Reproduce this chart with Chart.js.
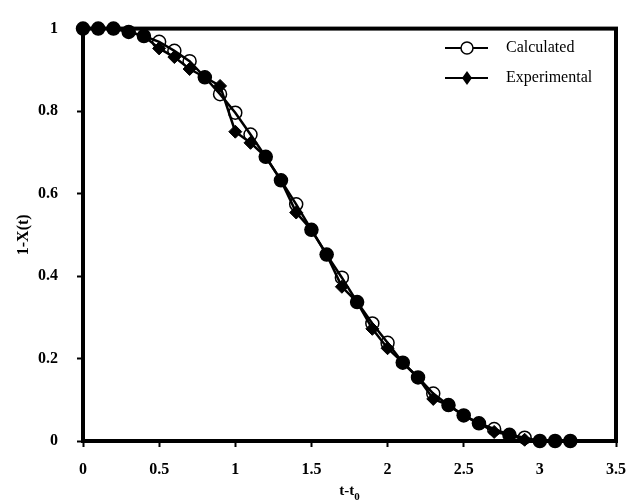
<!DOCTYPE html>
<html>
<head>
<meta charset="utf-8">
<script src="https://cdn.jsdelivr.net/npm/chart.js@4/dist/chart.umd.min.js"></script>
<style>
  html, body { margin: 0; padding: 0; background: #fff; }
  #c { display: block; }
</style>
</head>
<body>
<canvas id="c" width="639" height="502"></canvas>
<script>
// Reduced time t - t0
const timeValues = [0, 0.1, 0.2, 0.3, 0.4, 0.5, 0.6, 0.7, 0.8, 0.9, 1.0,
  1.1, 1.2, 1.3, 1.4, 1.5, 1.6, 1.7, 1.8, 1.9, 2.0,
  2.1, 2.2, 2.3, 2.4, 2.5, 2.6, 2.7, 2.8, 2.9, 3.0, 3.1, 3.2];

// Model prediction of 1 - X(t)
const calculated = [1, 1, 1, 0.992, 0.982, 0.968, 0.946, 0.921, 0.882, 0.841, 0.796,
  0.743, 0.689, 0.632, 0.574, 0.512, 0.452, 0.396, 0.337, 0.285, 0.238,
  0.190, 0.154, 0.115, 0.087, 0.062, 0.043, 0.029, 0.015, 0.008, 0, 0, 0];

// Measured 1 - X(t)
const experimental = [1, 1, 1, 0.992, 0.982, 0.952, 0.931, 0.902, 0.882, 0.861, 0.750,
  0.723, 0.689, 0.632, 0.554, 0.512, 0.452, 0.374, 0.337, 0.272, 0.225,
  0.190, 0.154, 0.102, 0.087, 0.062, 0.043, 0.022, 0.015, 0.003, 0, 0, 0];

const xTicks = [0, 0.5, 1, 1.5, 2, 2.5, 3, 3.5];
const yTicks = [0, 0.2, 0.4, 0.6, 0.8, 1];

const serif = "'Liberation Serif', 'Times New Roman', serif";

// Where both curves share a point, the calculated circle is drawn solid
function calcFill(ctx) {
  const i = ctx.dataIndex;
  if (i === undefined) return 'rgba(0,0,0,0)';
  return Math.abs(calculated[i] - experimental[i]) < 0.004 ? '#000' : 'rgba(0,0,0,0)';
}

const plainNumber = v => String(Math.round(v * 100) / 100);

// Heavy frame around the plotting area
const framePlugin = {
  id: 'frame',
  beforeDatasetsDraw(chart) {
    const { ctx, chartArea: a } = chart;
    ctx.save();
    ctx.strokeStyle = '#000';
    ctx.lineWidth = 4;
    ctx.strokeRect(a.left, a.top, a.right - a.left, a.bottom - a.top);
    ctx.restore();
  }
};

// x-axis title with subscript, and the line+marker legend in the corner
const annotatePlugin = {
  id: 'annotate',
  afterDraw(chart) {
    const { ctx, chartArea: a } = chart;
    ctx.save();
    ctx.fillStyle = '#000';
    ctx.textBaseline = 'alphabetic';
    // t-t0
    const main = 't-t';
    ctx.font = 'bold 15px ' + serif;
    const w1 = ctx.measureText(main).width;
    ctx.font = 'bold 11px ' + serif;
    const w2 = ctx.measureText('0').width;
    const cx = (a.left + a.right) / 2;
    const x0 = cx - (w1 + w2) / 2;
    ctx.font = 'bold 15px ' + serif;
    ctx.textAlign = 'left';
    ctx.fillText(main, x0, 495);
    ctx.font = 'bold 11px ' + serif;
    ctx.fillText('0', x0 + w1, 500);

    // legend
    const items = [
      { label: chart.data.datasets[1].label, style: 'circle', y: 48 },
      { label: chart.data.datasets[0].label, style: 'diamond', y: 78 }
    ];
    const lx1 = 445, lx2 = 488, mx = 467;
    items.forEach(it => {
      ctx.strokeStyle = '#000';
      ctx.lineWidth = 2;
      ctx.beginPath();
      if (it.style === 'circle') {
        ctx.moveTo(lx1, it.y); ctx.lineTo(mx - 6, it.y);
        ctx.moveTo(mx + 6, it.y); ctx.lineTo(lx2, it.y);
        ctx.stroke();
        ctx.lineWidth = 1.5;
        ctx.beginPath();
        ctx.arc(mx, it.y, 6, 0, Math.PI * 2);
        ctx.stroke();
      } else {
        ctx.moveTo(lx1, it.y); ctx.lineTo(lx2, it.y);
        ctx.stroke();
        ctx.beginPath();
        ctx.moveTo(mx, it.y - 7);
        ctx.lineTo(mx + 5, it.y);
        ctx.lineTo(mx, it.y + 7);
        ctx.lineTo(mx - 5, it.y);
        ctx.closePath();
        ctx.fill();
      }
      ctx.font = '16px ' + serif;
      ctx.textAlign = 'left';
      ctx.textBaseline = 'middle';
      ctx.fillText(it.label, 506, it.y);
    });
    ctx.restore();
  }
};

const whiteBg = {
  id: 'whiteBg',
  beforeDraw(chart) {
    const { ctx, width, height } = chart;
    ctx.save();
    ctx.fillStyle = '#fff';
    ctx.fillRect(0, 0, width, height);
    ctx.restore();
  }
};

new Chart(document.getElementById('c'), {
  type: 'line',
  data: {
    datasets: [
      {
        label: 'Experimental',
        data: timeValues.map((t, i) => ({ x: t, y: experimental[i] })),
        borderColor: '#000',
        borderWidth: 2.5,
        pointStyle: 'rectRot',
        pointRadius: 6.5,
        pointBackgroundColor: '#000',
        pointBorderColor: '#000',
        pointBorderWidth: 1,
        tension: 0,
        clip: false
      },
      {
        label: 'Calculated',
        data: timeValues.map((t, i) => ({ x: t, y: calculated[i] })),
        borderColor: '#000',
        borderWidth: 2.5,
        pointStyle: 'circle',
        pointRadius: 6.5,
        pointBackgroundColor: calcFill,
        pointBorderColor: '#000',
        pointBorderWidth: 1.5,
        tension: 0,
        clip: false
      }
    ]
  },
  options: {
    responsive: false,
    devicePixelRatio: 1,
    animation: false,
    events: [],
    layout: { padding: { top: 20, right: 14, left: 0, bottom: 0 } },
    plugins: {
      legend: { display: false },
      tooltip: { enabled: false }
    },
    scales: {
      x: {
        type: 'linear',
        min: 0,
        max: 3.5,
        afterBuildTicks(scale) { scale.ticks = xTicks.map(v => ({ value: v })); },
        afterFit(scale) { scale.height = 61; },
        ticks: {
          color: '#000',
          font: { family: serif, size: 16, weight: 'bold' },
          padding: 13,
          maxRotation: 0,
          callback: plainNumber
        },
        grid: {
          drawOnChartArea: false,
          drawTicks: true,
          tickLength: 6,
          tickWidth: 2,
          tickColor: '#000'
        },
        border: { display: false }
      },
      y: {
        type: 'linear',
        min: 0,
        max: 1,
        afterBuildTicks(scale) { scale.ticks = yTicks.map(v => ({ value: v })); },
        afterFit(scale) { scale.width = 83; },
        ticks: {
          color: '#000',
          font: { family: serif, size: 16, weight: 'bold' },
          padding: 19,
          callback: plainNumber
        },
        grid: {
          drawOnChartArea: false,
          drawTicks: true,
          tickLength: 6,
          tickWidth: 2,
          tickColor: '#000'
        },
        border: { display: false },
        title: {
          display: true,
          text: '1-X(t)',
          color: '#000',
          font: { family: serif, size: 16, weight: 'bold' },
          padding: { top: 14, bottom: 0 }
        }
      }
    }
  },
  plugins: [whiteBg, framePlugin, annotatePlugin]
});
</script>
</body>
</html>
